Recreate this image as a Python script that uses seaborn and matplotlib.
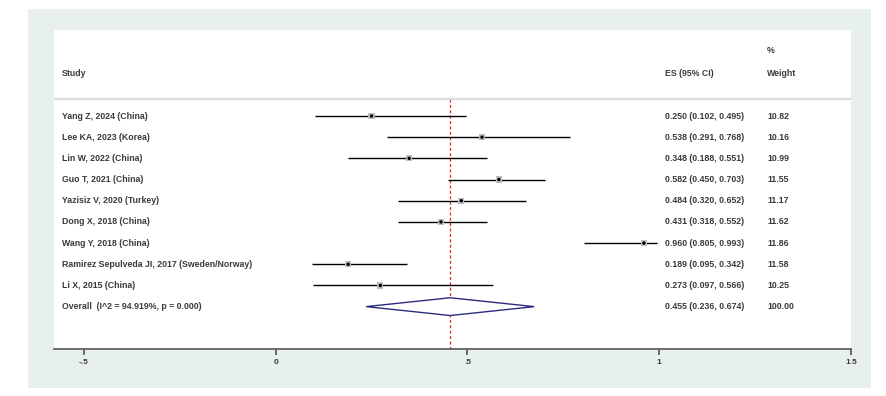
import matplotlib
matplotlib.use("Agg")
import matplotlib.pyplot as plt
from matplotlib.patches import Rectangle, Polygon
import seaborn as sns
import pandas as pd

# study data
studies = ["Yang Z, 2024 (China)", "Lee KA, 2023 (Korea)", "Lin W, 2022 (China)",
           "Guo T, 2021 (China)", "Yazisiz V, 2020 (Turkey)", "Dong X, 2018 (China)",
           "Wang Y, 2018 (China)", "Ramirez Sepulveda JI, 2017 (Sweden/Norway)",
           "Li X, 2015 (China)"]
es = [0.250, 0.538, 0.348, 0.582, 0.484, 0.431, 0.960, 0.189, 0.273]
lower = [0.102, 0.291, 0.188, 0.450, 0.320, 0.318, 0.805, 0.095, 0.097]
upper = [0.495, 0.768, 0.551, 0.703, 0.652, 0.552, 0.993, 0.342, 0.566]
weights = [10.82, 10.16, 10.99, 11.55, 11.17, 11.62, 11.86, 11.58, 10.25]

overall_label = "Overall  (I^2 = 94.919%, p = 0.000)"
overall_es, overall_lo, overall_hi, overall_w = 0.455, 0.236, 0.674, 100.00

xticks = [-0.5, 0, 0.5, 1, 1.5]
xticklabels = ["-.5", "0", ".5", "1", "1.5"]

df = pd.DataFrame({"study": studies, "es": es, "lo": lower, "hi": upper, "w": weights})
df["row"] = range(len(df))

sns.set_style("white")
plt.rcParams["font.family"] = ["Liberation Sans", "DejaVu Sans"]

fig = plt.figure(figsize=(8.86, 3.96), dpi=100)
fig.patch.set_facecolor("white")
fig.patches.append(Rectangle((0.0316, 0.0202), 0.9514, 0.9568, transform=fig.transFigure,
                             facecolor="#e7f0ef", edgecolor="none", zorder=-5))
ax = fig.add_axes([0.0609, 0.1187, 0.8996, 0.8055])
ax.set_zorder(2)
ax.set_facecolor("white")
ax.set_xlim(-0.578, 1.5)
ax.set_ylim(11.0, -4.06)

txt = dict(fontsize=6.3, color="#3a3a3a", va="center", fontweight="bold")
tr = ax.get_yaxis_transform()

# CI lines
ax.hlines(df["row"], df["lo"], df["hi"], color="black", lw=1.0, zorder=3)
# weight boxes + point estimates
sns.scatterplot(data=df, x="es", y="row", marker="s", s=20, color="#bdbdbd",
                edgecolor="none", ax=ax, zorder=4, legend=False)
sns.scatterplot(data=df, x="es", y="row", marker="o", s=6, color="black",
                edgecolor="none", ax=ax, zorder=5, legend=False)

# overall diamond
orow = len(df)
ax.add_patch(Polygon([(overall_lo, orow), (overall_es, orow - 0.42),
                      (overall_hi, orow), (overall_es, orow + 0.42)],
                     closed=True, facecolor="white", edgecolor="#2b2b7d", lw=1.0, zorder=3))

# overall line
ax.vlines(overall_es, -0.8, 11.0, color="#b5433d", lw=0.9, ls=(0, (2.5, 1.8)), zorder=2)

# header and divider
ax.axhline(-0.8, color="#dcdcdc", lw=1.6)
ax.text(0.010, -2.03, "Study", transform=tr, **txt)
ax.text(0.7666, -2.03, "ES (95% CI)", transform=tr, **txt)
ax.text(0.8946, -3.11, "%", transform=tr, **txt)
ax.text(0.8946, -2.03, "Weight", transform=tr, **txt)

for r in df.itertuples():
    ax.text(0.010, r.row, r.study, transform=tr, **txt)
    ax.text(0.7666, r.row, f"{r.es:.3f} ({r.lo:.3f}, {r.hi:.3f})", transform=tr, **txt)
    ax.text(0.8946, r.row, f"{r.w:.2f}", transform=tr, **txt)
ax.text(0.010, orow, overall_label, transform=tr, **txt)
ax.text(0.7666, orow, f"{overall_es:.3f} ({overall_lo:.3f}, {overall_hi:.3f})", transform=tr, **txt)
ax.text(0.8946, orow, f"{overall_w:.2f}", transform=tr, **txt)

# axis styling
for s in ["top", "left", "right"]:
    ax.spines[s].set_visible(False)
ax.spines["bottom"].set_color("#555555")
ax.spines["bottom"].set_linewidth(1.2)
ax.set_yticks([])
ax.set_xticks(xticks)
ax.set_xticklabels(xticklabels, fontsize=6, color="#3a3a3a", fontweight="bold")
ax.tick_params(axis="x", direction="out", length=4, width=1.2, color="#555555", pad=3, bottom=True)
ax.set_xlabel("")
ax.set_ylabel("")

fig.savefig("out.png", dpi=100)
